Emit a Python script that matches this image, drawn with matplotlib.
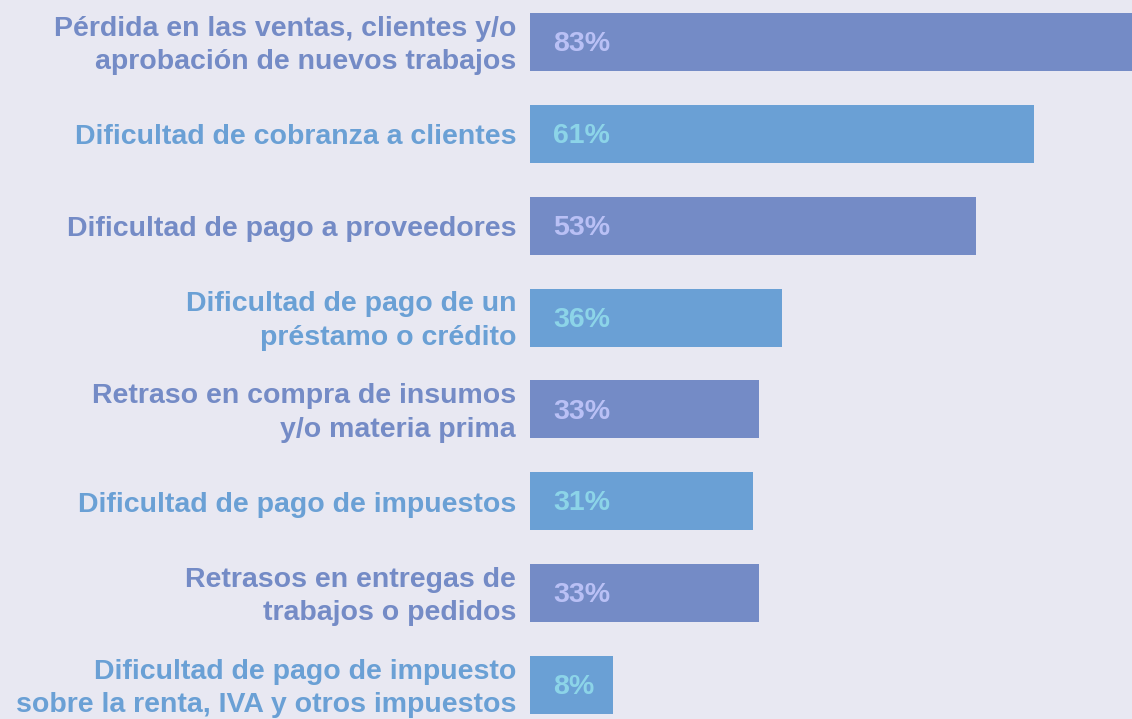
import matplotlib
matplotlib.use("Agg")
import matplotlib.pyplot as plt

# Data
categories = [
    "Pérdida en las ventas, clientes y/o\naprobación de nuevos trabajos",
    "Dificultad de cobranza a clientes",
    "Dificultad de pago a proveedores",
    "Dificultad de pago de un\npréstamo o crédito",
    "Retraso en compra de insumos\ny/o materia prima",
    "Dificultad de pago de impuestos",
    "Retrasos en entregas de\ntrabajos o pedidos",
    "Dificultad de pago de impuesto\nsobre la renta, IVA y otros impuestos",
]
values = [83, 61, 53, 36, 33, 31, 33, 8]
# drawn bar lengths as they appear in the picture (not strictly proportional to the labels)
bar_lengths = [83, 61, 54, 30.5, 27.7, 27.0, 27.7, 10.0]

# Styling
bg = "#e8e8f2"
bar_colors = ["#748bc6", "#6aa0d5"]
value_colors = ["#b9c0f5", "#8cd4e8"]

plt.rcParams["font.family"] = ["Liberation Sans", "DejaVu Sans"]

fig = plt.figure(figsize=(11.32, 7.19), dpi=100)
fig.patch.set_facecolor(bg)
ax = fig.add_axes([530 / 1132, 0, 1 - 530 / 1132, 1])
ax.set_facecolor(bg)

n = len(categories)
ypos = list(range(n))
cols = [bar_colors[i % 2] for i in range(n)]
ax.barh(ypos, bar_lengths, height=0.63, color=cols, linewidth=0)

for i, (lab, v) in enumerate(zip(categories, values)):
    ax.annotate(f"{v}%", xy=(0, i), xytext=(16.5, -1.5), textcoords="offset points",
                ha="left", va="center", fontsize=20.5, fontweight="bold",
                color=value_colors[i % 2])
    ax.annotate(lab, xy=(0, i), xytext=(-10, -2.5), textcoords="offset points",
                ha="right", va="center", fontsize=20.5, fontweight="bold",
                color=bar_colors[i % 2], linespacing=1.38, annotation_clip=False)

ax.set_xlim(0, 602 / 8.26)
ax.set_ylim(n - 1 + 34 / 91.86, -42 / 91.86)
ax.axis("off")

fig.savefig("out.png", dpi=100, facecolor=bg)
